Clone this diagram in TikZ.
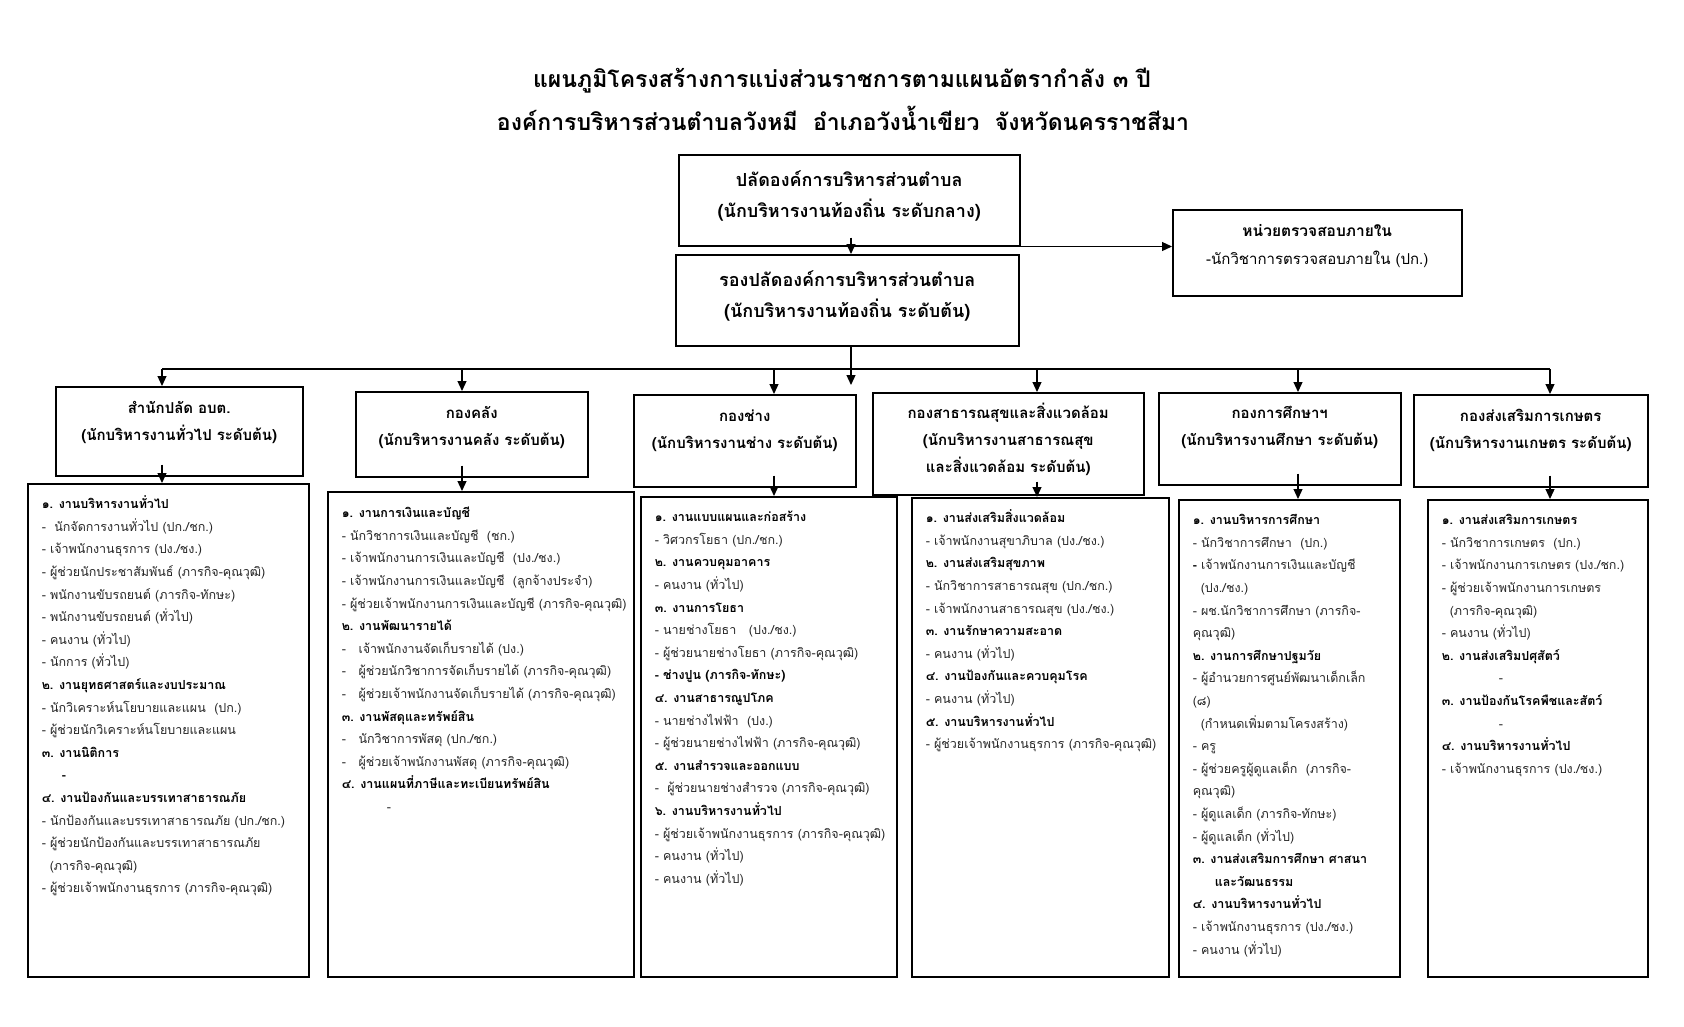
\documentclass[tikz,border=0pt]{standalone}
\usepackage{fontspec}
\setmainfont{Loma}[Script=Thai]
\usetikzlibrary{arrows.meta}

\colorlet{itemgray}{black!85}
\newcommand{\hd}[1]{\textcolor{black}{\textbf{#1}}}
\newcommand{\ind}{\hspace*{8pt}}
% box contents: width, height, first baseline, text
\newcommand{\inbox}[4]{\parbox[c][#2pt][t]{#1pt}{\centering\rule{0pt}{#3pt}#4}}
\newcommand{\inlist}[4]{\parbox[c][#2pt][t]{#1pt}{\raggedright\leftskip=14pt\rule{0pt}{#3pt}#4}}

\tikzset{
	headbox/.style={draw, line width=1.5pt, inner sep=0pt, anchor=north west, font=\fontsize{15}{27}\selectfont\bfseries},
	topbox/.style={headbox, font=\fontsize{18}{31}\selectfont\bfseries},
	listbox/.style={draw, line width=1.5pt, inner sep=0pt, anchor=north west, text=itemgray, font=\fontsize{12.5}{22.6}\selectfont},
	arr/.style={line width=1.2pt, -{Triangle[length=10pt,width=9pt]}},
	bus/.style={line width=1.2pt}
}

\begin{document}
\begin{tikzpicture}[x=1pt, y=-1pt]
	\useasboundingbox[fill=white] (0,0) rectangle (1684,1026);

	% title
	\node[font=\fontsize{23}{27}\selectfont\bfseries] (title1) at (842,81) {แผนภูมิโครงสร้างการแบ่งส่วนราชการตามแผนอัตรากำลัง ๓ ปี};
	\node[font=\fontsize{23}{27}\selectfont\bfseries] (title2) at (843,118) {องค์การบริหารส่วนตำบลวังหมี\ \ อำเภอวังน้ำเขียว\ \ จังหวัดนครราชสีมา};

	% top level
	\node[topbox] (top) at (678,154) {\inbox{341}{91}{32}{ปลัดองค์การบริหารส่วนตำบล\\(นักบริหารงานท้องถิ่น ระดับกลาง)}};
	\node[topbox] (dep) at (675,254) {\inbox{343}{91}{32}{รองปลัดองค์การบริหารส่วนตำบล\\(นักบริหารงานท้องถิ่น ระดับต้น)}};
	\node[headbox, font=\fontsize{15}{28}\selectfont] (audit) at (1172,209) {\inbox{289}{86}{27}{\textbf{\fontsize{15.5}{28}\selectfont หน่วยตรวจสอบภายใน}\\-นักวิชาการตรวจสอบภายใน (ปก.)}};

	% divisions
	\node[headbox] (h1) at (55,386) {\inbox{247}{89}{27}{สำนักปลัด อบต.\\(นักบริหารงานทั่วไป ระดับต้น)}};
	\node[headbox] (h2) at (355,391) {\inbox{232}{85}{27}{กองคลัง\\(นักบริหารงานคลัง ระดับต้น)}};
	\node[headbox] (h3) at (633,394) {\inbox{222}{92}{27}{กองช่าง\\(นักบริหารงานช่าง ระดับต้น)}};
	\node[headbox] (h4) at (872,392) {\inbox{271}{102}{26}{กองสาธารณสุขและสิ่งแวดล้อม\\(นักบริหารงานสาธารณสุข\\และสิ่งแวดล้อม ระดับต้น)}};
	\node[headbox] (h5) at (1158,392) {\inbox{242}{92}{26}{กองการศึกษาฯ\\(นักบริหารงานศึกษา ระดับต้น)}};
	\node[headbox] (h6) at (1413,394) {\inbox{234}{92}{27}{กองส่งเสริมการเกษตร\\(นักบริหารงานเกษตร ระดับต้น)}};

	% staff lists
	\node[listbox] (l1) at (27,483) {\inlist{281}{493}{25}{%
		\hd{๑. งานบริหารงานทั่วไป}\\
		-~~นักจัดการงานทั่วไป (ปก./ชก.)\\
		- เจ้าพนักงานธุรการ (ปง./ชง.)\\
		- ผู้ช่วยนักประชาสัมพันธ์ (ภารกิจ-คุณวุฒิ)\\
		- พนักงานขับรถยนต์ (ภารกิจ-ทักษะ)\\
		- พนักงานขับรถยนต์ (ทั่วไป)\\
		- คนงาน (ทั่วไป)\\
		- นักการ (ทั่วไป)\\
		\hd{๒. งานยุทธศาสตร์และงบประมาณ}\\
		- นักวิเคราะห์นโยบายและแผน~~(ปก.)\\
		- ผู้ช่วยนักวิเคราะห์นโยบายและแผน\\
		\hd{๓. งานนิติการ}\\
		\hspace*{20pt}\hd{-}\\
		\hd{๔. งานป้องกันและบรรเทาสาธารณภัย}\\
		- นักป้องกันและบรรเทาสาธารณภัย (ปก./ชก.)\\
		- ผู้ช่วยนักป้องกันและบรรเทาสาธารณภัย\\
		\ind(ภารกิจ-คุณวุฒิ)\\
		- ผู้ช่วยเจ้าพนักงานธุรการ (ภารกิจ-คุณวุฒิ)}};
	\node[listbox] (l2) at (327,491) {\inlist{306}{485}{26}{%
		\hd{๑. งานการเงินและบัญชี}\\
		- นักวิชาการเงินและบัญชี~~(ชก.)\\
		- เจ้าพนักงานการเงินและบัญชี~~(ปง./ชง.)\\
		- เจ้าพนักงานการเงินและบัญชี~~(ลูกจ้างประจำ)\\
		- ผู้ช่วยเจ้าพนักงานการเงินและบัญชี (ภารกิจ-คุณวุฒิ)\\
		\hd{๒. งานพัฒนารายได้}\\
		-~~ เจ้าพนักงานจัดเก็บรายได้ (ปง.)\\
		-~~ ผู้ช่วยนักวิชาการจัดเก็บรายได้ (ภารกิจ-คุณวุฒิ)\\
		-~~ ผู้ช่วยเจ้าพนักงานจัดเก็บรายได้ (ภารกิจ-คุณวุฒิ)\\
		\hd{๓. งานพัสดุและทรัพย์สิน}\\
		-~~ นักวิชาการพัสดุ (ปก./ชก.)\\
		-~~ ผู้ช่วยเจ้าพนักงานพัสดุ (ภารกิจ-คุณวุฒิ)\\
		\hd{๔. งานแผนที่ภาษีและทะเบียนทรัพย์สิน}\\
		\hspace*{45pt}-}};
	\node[listbox] (l3) at (640,496) {\inlist{256}{480}{25}{%
		\hd{๑. งานแบบแผนและก่อสร้าง}\\
		- วิศวกรโยธา (ปก./ชก.)\\
		\hd{๒. งานควบคุมอาคาร}\\
		- คนงาน (ทั่วไป)\\
		\hd{๓. งานการโยธา}\\
		- นายช่างโยธา~~~(ปง./ชง.)\\
		- ผู้ช่วยนายช่างโยธา (ภารกิจ-คุณวุฒิ)\\
		\hd{- ช่างปูน (ภารกิจ-ทักษะ)}\\
		\hd{๔. งานสาธารณูปโภค}\\
		- นายช่างไฟฟ้า~~(ปง.)\\
		- ผู้ช่วยนายช่างไฟฟ้า (ภารกิจ-คุณวุฒิ)\\
		\hd{๕. งานสำรวจและออกแบบ}\\
		-~~ผู้ช่วยนายช่างสำรวจ (ภารกิจ-คุณวุฒิ)\\
		\hd{๖. งานบริหารงานทั่วไป}\\
		- ผู้ช่วยเจ้าพนักงานธุรการ (ภารกิจ-คุณวุฒิ)\\
		- คนงาน (ทั่วไป)\\
		- คนงาน (ทั่วไป)}};
	\node[listbox] (l4) at (911,497) {\inlist{257}{479}{25}{%
		\hd{๑. งานส่งเสริมสิ่งแวดล้อม}\\
		- เจ้าพนักงานสุขาภิบาล (ปง./ชง.)\\
		\hd{๒. งานส่งเสริมสุขภาพ}\\
		- นักวิชาการสาธารณสุข (ปก./ชก.)\\
		- เจ้าพนักงานสาธารณสุข (ปง./ชง.)\\
		\hd{๓. งานรักษาความสะอาด}\\
		- คนงาน (ทั่วไป)\\
		\hd{๔. งานป้องกันและควบคุมโรค}\\
		- คนงาน (ทั่วไป)\\
		\hd{๕. งานบริหารงานทั่วไป}\\
		- ผู้ช่วยเจ้าพนักงานธุรการ (ภารกิจ-คุณวุฒิ)}};
	\node[listbox] (l5) at (1178,499) {\inlist{221}{477}{25}{%
		\hd{๑. งานบริหารการศึกษา}\\
		- นักวิชาการศึกษา~~(ปก.)\\
		\hd{-} เจ้าพนักงานการเงินและบัญชี\\
		\ind(ปง./ชง.)\\
		- ผช.นักวิชาการศึกษา (ภารกิจ-\\
		คุณวุฒิ)\\
		\hd{๒. งานการศึกษาปฐมวัย}\\
		- ผู้อำนวยการศูนย์พัฒนาเด็กเล็ก\\
		(๘)\\
		\ind(กำหนดเพิ่มตามโครงสร้าง)\\
		- ครู\\
		- ผู้ช่วยครูผู้ดูแลเด็ก~~(ภารกิจ-\\
		คุณวุฒิ)\\
		- ผู้ดูแลเด็ก (ภารกิจ-ทักษะ)\\
		- ผู้ดูแลเด็ก (ทั่วไป)\\
		\hd{๓. งานส่งเสริมการศึกษา ศาสนา}\\
		\hspace*{22pt}\hd{และวัฒนธรรม}\\
		\hd{๔. งานบริหารงานทั่วไป}\\
		- เจ้าพนักงานธุรการ (ปง./ชง.)\\
		- คนงาน (ทั่วไป)}};
	\node[listbox] (l6) at (1427,499) {\inlist{220}{477}{25}{%
		\hd{๑. งานส่งเสริมการเกษตร}\\
		- นักวิชาการเกษตร~~(ปก.)\\
		- เจ้าพนักงานการเกษตร (ปง./ชก.)\\
		- ผู้ช่วยเจ้าพนักงานการเกษตร\\
		\ind(ภารกิจ-คุณวุฒิ)\\
		- คนงาน (ทั่วไป)\\
		\hd{๒. งานส่งเสริมปศุสัตว์}\\
		\hspace*{57pt}-\\
		\hd{๓. งานป้องกันโรคพืชและสัตว์}\\
		\hspace*{57pt}-\\
		\hd{๔. งานบริหารงานทั่วไป}\\
		- เจ้าพนักงานธุรการ (ปง./ชง.)}};

	% connectors
	\coordinate (tk) at (851,385);
	\draw[arr] ([yshift=9pt]tk |- top.south) -- (tk |- dep.north);
	\draw[arr] (tk |- top.south) -- (top.south -| audit.west);
	\draw[arr] (tk |- dep.south) -- (tk);

	\coordinate (b1) at (162,369);
	\coordinate (b2) at (462,369);
	\coordinate (b3) at (774,369);
	\coordinate (b4) at (1037,369);
	\coordinate (b5) at (1298,369);
	\coordinate (b6) at (1550,369);
	\draw[bus] (b1) -- (b6);

	\draw[arr] (b1) -- (b1 |- h1.north);
	\draw[arr] (b2) -- (b2 |- h2.north);
	\draw[arr] (b3) -- (b3 |- h3.north);
	\draw[arr] (b4) -- (b4 |- h4.north);
	\draw[arr] (b5) -- (b5 |- h5.north);
	\draw[arr] (b6) -- (b6 |- h6.north);

	\draw[arr] ([yshift=12pt]b1 |- h1.south) -- (b1 |- l1.north);
	\draw[arr] ([yshift=12pt]b2 |- h2.south) -- (b2 |- l2.north);
	\draw[arr] ([yshift=12pt]b3 |- h3.south) -- (b3 |- l3.north);
	\draw[arr] ([yshift=14pt]b4 |- h4.south) -- (b4 |- l4.north);
	\draw[arr] ([yshift=12pt]b5 |- h5.south) -- (b5 |- l5.north);
	\draw[arr] ([yshift=12pt]b6 |- h6.south) -- (b6 |- l6.north);
\end{tikzpicture}
\end{document}
